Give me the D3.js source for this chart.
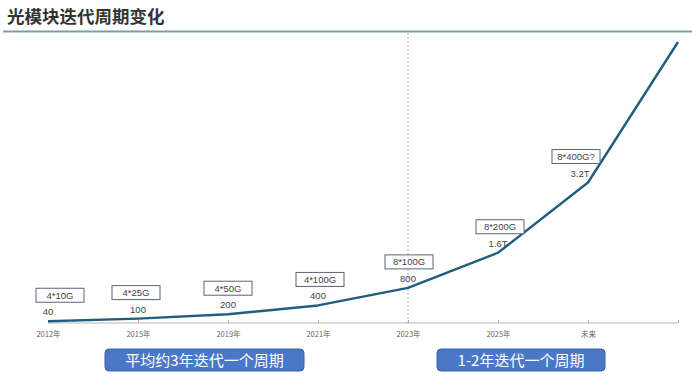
<!DOCTYPE html>
<html><head><meta charset="utf-8">
<script src="https://cdn.jsdelivr.net/npm/d3@7/dist/d3.min.js"></script>
<style>
body{margin:0;background:#fff;}
svg{display:block;}
</style></head>
<body>
<svg id="c" width="692" height="378"></svg>
<script>
// ---- data ----
const categories = ["2012年","2015年","2019年","2021年","2023年","2025年","未来","end"];
const speeds = [40, 100, 200, 400, 800, 1600, 3200, 6400];
const valueLabels = ["40","100","200","400","800","1.6T","3.2T",""];
const moduleLabels = ["4*10G","4*25G","4*50G","4*100G","8*100G","8*200G","8*400G?"];
const phaseLabels = ["平均约3年迭代一个周期","1-2年迭代一个周期"];
const title = "光模块迭代周期变化";

// ---- layout ----
const boxDx = [12,-2,0,2,1,2,-12];
const valDx = [0,0,0,0,0,0,-8];
const svg = d3.select("#c");
const cjk = "'Noto Sans CJK SC','Noto Sans',sans-serif";
const lat = "'Liberation Sans',Arial,sans-serif";

svg.append("text").attr("x",7).attr("y",23).text(title)
  .attr("font-family",cjk).attr("font-weight","bold").attr("font-size",17.5).attr("fill","#333");
svg.append("rect").attr("x",3).attr("y",30.5).attr("width",689).attr("height",2).attr("fill","#7f9ca6");

const x = d3.scalePoint().domain(categories).range([48,678]);
const y = d3.scaleLinear().domain([0,6400]).range([323,42]);

// axis
const axisG = svg.append("g").attr("transform","translate(0,323)")
  .call(d3.axisBottom(x).tickSize(-3).tickPadding(9).tickFormat(d => d==="end" ? "" : d));
axisG.select(".domain").attr("stroke","#b5b5b5").attr("d","M48,0H678");
axisG.selectAll(".tick line").attr("stroke","#b5b5b5");
axisG.selectAll(".tick text").attr("font-family",cjk).attr("font-size",7.5).attr("fill","#666");

// dashed divider at 2023
svg.append("line").attr("x1",x("2023年")).attr("x2",x("2023年")).attr("y1",33).attr("y2",323)
  .attr("stroke","#8f9bd0").attr("stroke-width",0.8).attr("stroke-dasharray","2,2");

// line
const line = d3.line().x((d,i)=>x(categories[i])).y(d=>y(d));
svg.append("path").datum(speeds).attr("d",line).attr("fill","none")
  .attr("stroke","#1f5e7c").attr("stroke-width",2.4).attr("stroke-linejoin","round");

// value labels
valueLabels.forEach((t,i)=>{
  if(!t) return;
  svg.append("text").attr("x",x(categories[i])+valDx[i]).attr("y",y(speeds[i])-6)
    .attr("text-anchor","middle").attr("font-family",lat).attr("font-size",9.5).attr("fill","#444").text(t);
});
// module boxes
moduleLabels.forEach((t,i)=>{
  const cx = x(categories[i])+boxDx[i];
  const cy = y(speeds[i]) - 26;
  svg.append("rect").attr("x",cx-24).attr("y",cy-7).attr("width",48).attr("height",14)
    .attr("fill","#fff").attr("stroke","#5a6478").attr("stroke-width",1);
  svg.append("text").attr("x",cx).attr("y",cy+3.5).attr("text-anchor","middle")
    .attr("font-family",lat).attr("font-size",9.5).attr("fill","#444").text(t);
});

// phase banners
const banners = [{x0:105,x1:304},{x0:437,x1:605}];
phaseLabels.forEach((t,i)=>{
  const b = banners[i];
  svg.append("rect").attr("x",b.x0).attr("y",349).attr("width",b.x1-b.x0).attr("height",22).attr("rx",4)
    .attr("fill","#4a78c6").attr("stroke","#3a62a8").attr("stroke-width",1);
  svg.append("text").attr("x",(b.x0+b.x1)/2).attr("y",365.5).attr("text-anchor","middle")
    .attr("font-family",cjk).attr("font-size",15).attr("fill","#fff").text(t);
});
</script>
</body></html>
